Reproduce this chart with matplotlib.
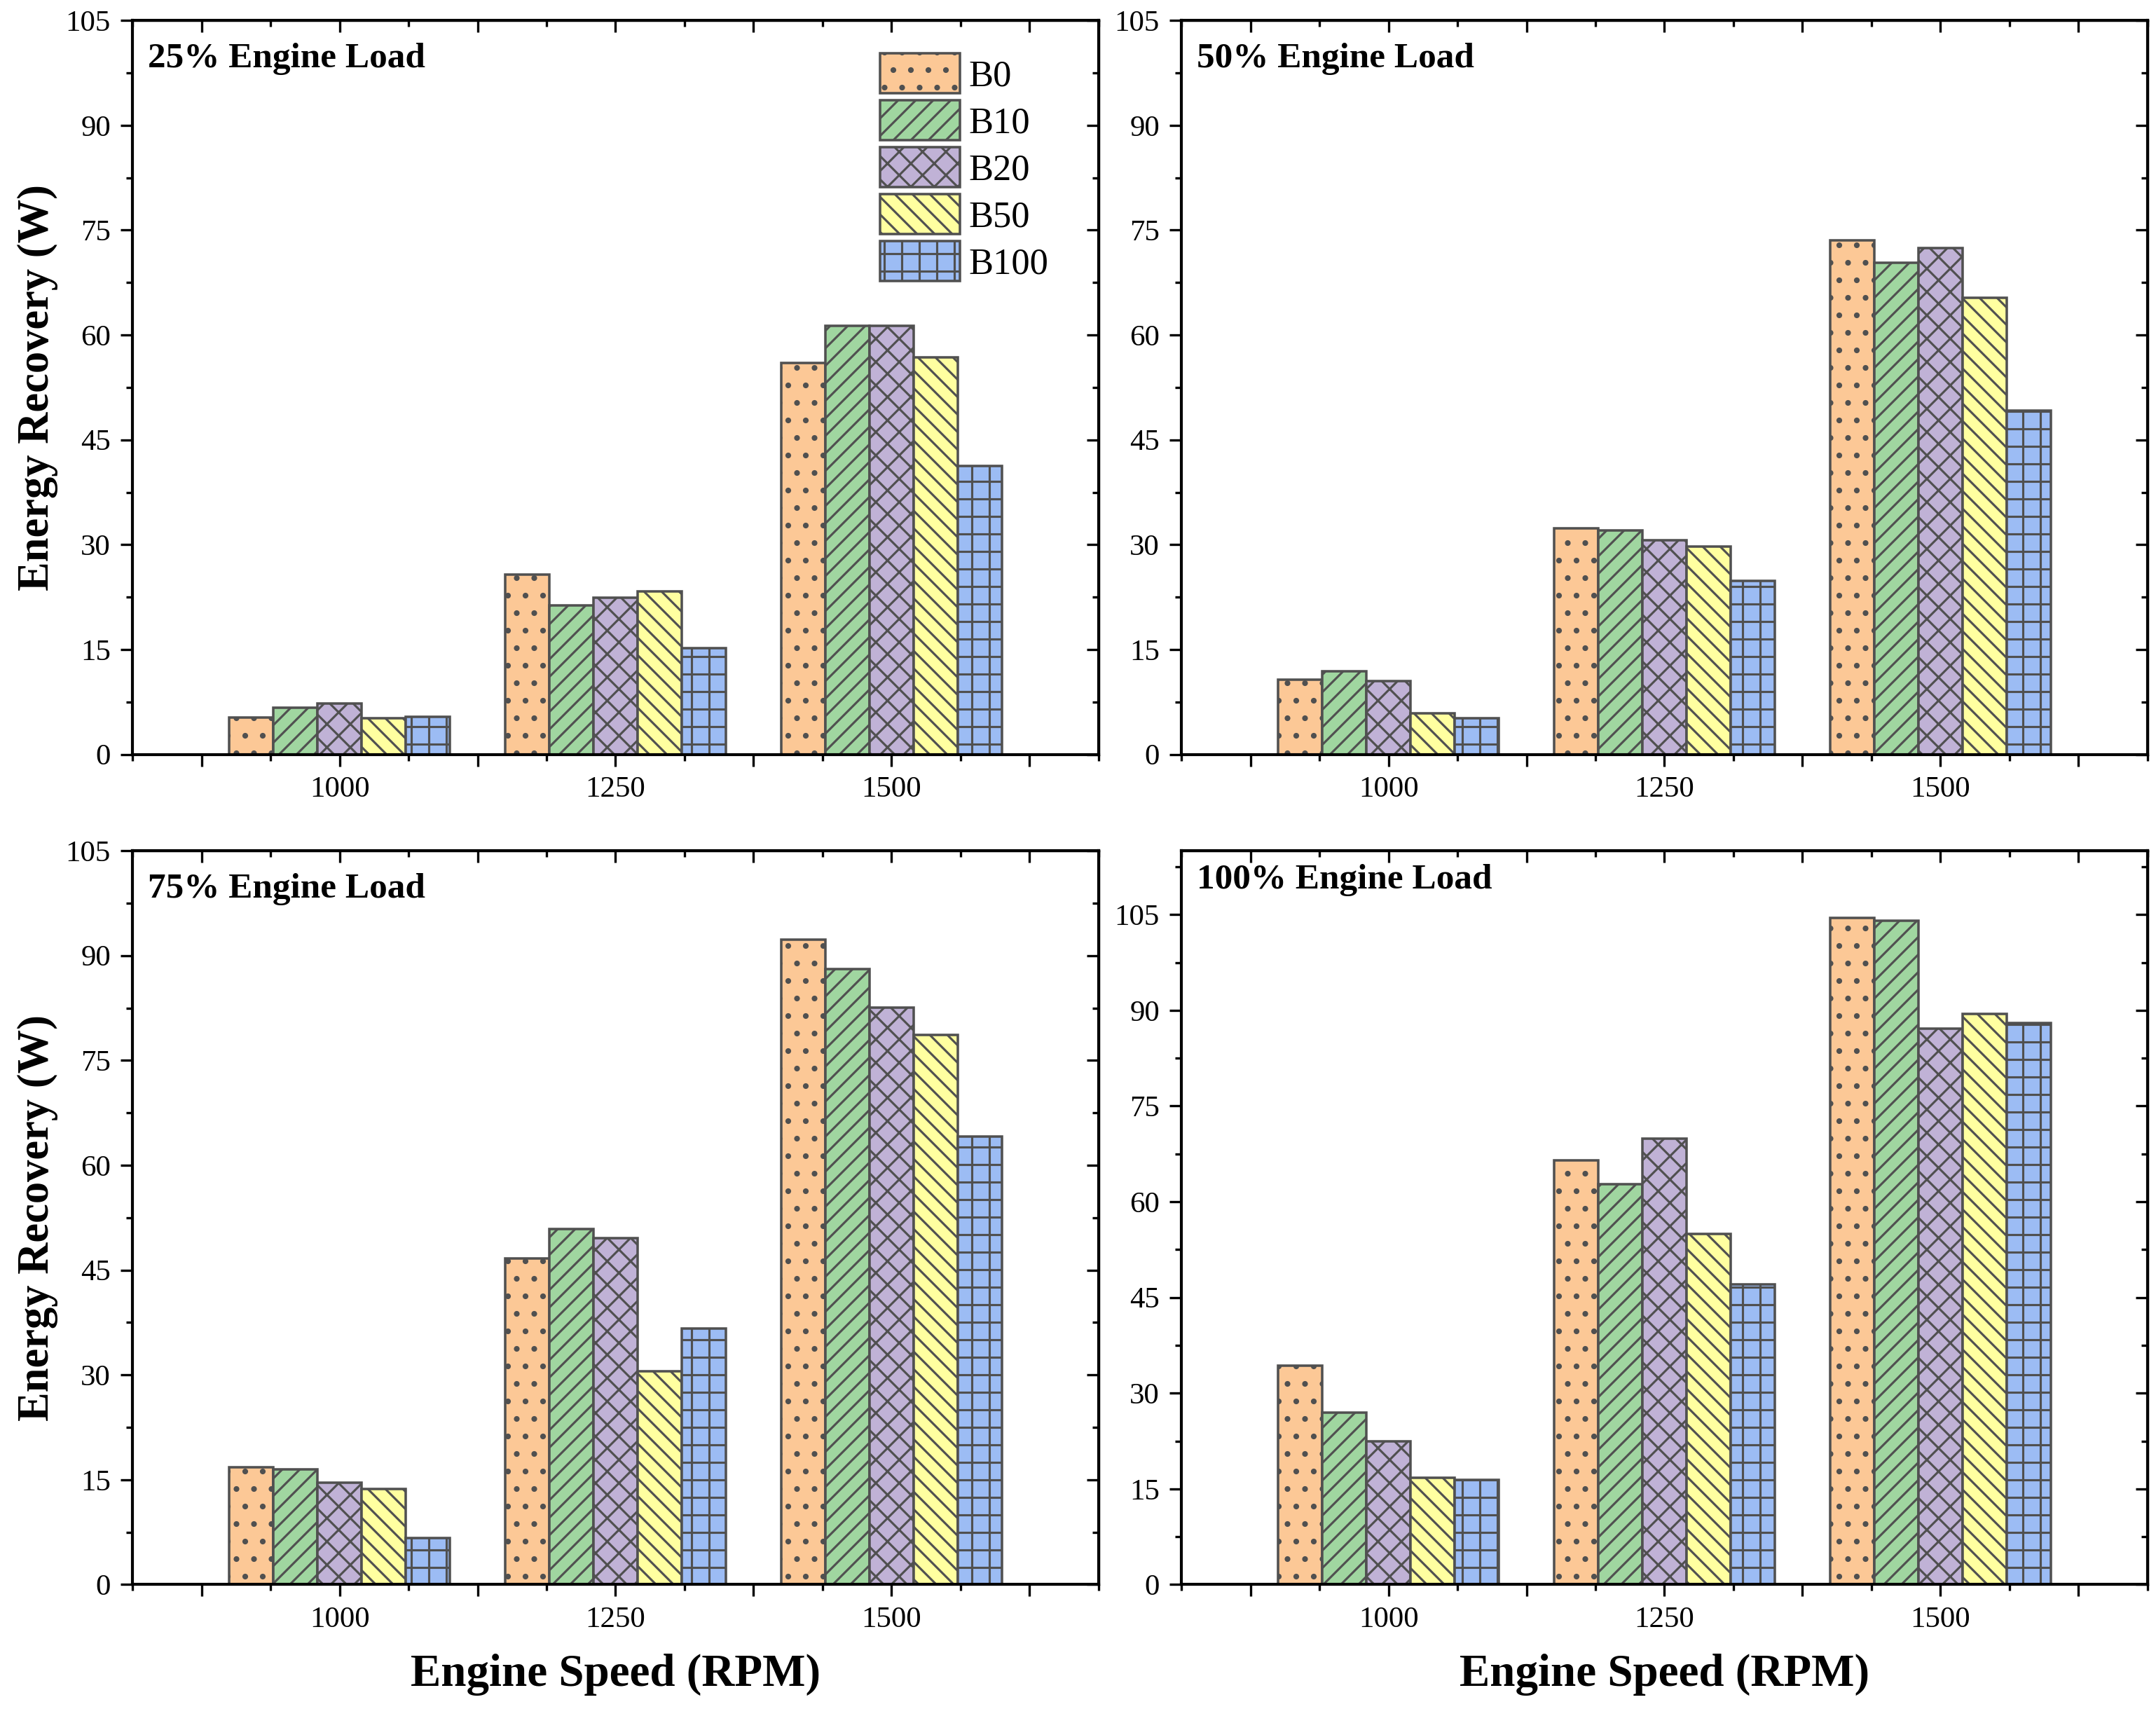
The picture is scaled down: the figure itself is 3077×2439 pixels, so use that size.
import matplotlib
matplotlib.use("Agg")
import matplotlib.pyplot as plt
from matplotlib.ticker import MultipleLocator
import numpy as np

plt.rcParams['font.family'] = ['Liberation Serif', 'DejaVu Serif']
plt.rcParams['hatch.linewidth'] = 0.75

# engine speeds and fuel blends
speeds = [1000, 1250, 1500]
blends = ['B0', 'B10', 'B20', 'B50', 'B100']
loads = ['25% Engine Load', '50% Engine Load', '75% Engine Load', '100% Engine Load']

# energy recovery (W), one list per blend, values at 1000/1250/1500 rpm
load25 = {
    'B0':   [5.3, 25.7, 56.0],
    'B10':  [6.7, 21.3, 61.3],
    'B20':  [7.3, 22.4, 61.3],
    'B50':  [5.2, 23.3, 56.8],
    'B100': [5.4, 15.2, 41.3],
}
load50 = {
    'B0':   [10.7, 32.3, 73.5],
    'B10':  [11.9, 32.0, 70.3],
    'B20':  [10.5, 30.6, 72.4],
    'B50':  [5.9, 29.7, 65.3],
    'B100': [5.2, 24.8, 49.2],
}
load75 = {
    'B0':   [16.8, 46.7, 92.3],
    'B10':  [16.5, 50.9, 88.1],
    'B20':  [14.6, 49.6, 82.6],
    'B50':  [13.7, 30.5, 78.6],
    'B100': [6.7, 36.6, 64.1],
}
load100 = {
    'B0':   [34.3, 66.5, 104.5],
    'B10':  [26.9, 62.8, 104.0],
    'B20':  [22.4, 69.9, 87.1],
    'B50':  [16.7, 54.9, 89.4],
    'B100': [16.4, 47.1, 88.0],
}
all_data = [load25, load50, load75, load100]
ytops = [105, 105, 105, 115]

colors = ['#FCC896', '#A0D6A0', '#C0B2D6', '#FFFFA0', '#9CBCF4']
hatches = ['..', '////', 'xxx', '\\\\\\\\', '++']
edge = '#505050'

fig = plt.figure(figsize=(3077 / 300, 2439 / 300), dpi=300)

lefts = [0.0615, 0.548, 0.0615, 0.548]
bottoms = [0.5586, 0.5586, 0.0728, 0.0728]
w, h = 0.448, 0.4294

bar_w = 40
offsets = [-80, -40, 0, 40, 80]

xmajor = np.arange(875, 1626, 125)
xlabels = ['', '1000', '', '1250', '', '1500', '']
ymajor = np.arange(0, 106, 15)


def style_ticks(axis_obj, direction):
    axis_obj.tick_params(which='both', direction=direction, width=0.8)
    axis_obj.tick_params(which='major', length=4)
    axis_obj.tick_params(which='minor', length=2.2)


for k in range(4):
    ax = fig.add_axes([lefts[k], bottoms[k], w, h])
    data = all_data[k]
    for j, b in enumerate(blends):
        xs = [s + offsets[j] for s in speeds]
        ax.bar(xs, data[b], width=bar_w, color=colors[j], edgecolor=edge,
               linewidth=0.85, hatch=hatches[j], label=b)
    ax.set_xlim(812.5, 1687.5)
    ax.set_ylim(0, ytops[k])
    ax.set_xticks(xmajor)
    ax.set_xticklabels(xlabels)
    ax.xaxis.set_minor_locator(MultipleLocator(62.5))
    ax.set_yticks(ymajor)
    ax.yaxis.set_minor_locator(MultipleLocator(7.5))
    style_ticks(ax, 'out')
    ax.tick_params(labelsize=10.3)
    for sp in ax.spines.values():
        sp.set_linewidth(1.0)

    # inner ticks on top and right like the original
    ax2 = ax.secondary_xaxis('top')
    ax2.set_xticks(xmajor)
    ax2.xaxis.set_minor_locator(MultipleLocator(62.5))
    style_ticks(ax2, 'in')
    ax2.tick_params(labeltop=False)
    ax3 = ax.secondary_yaxis('right')
    ax3.set_yticks(ymajor)
    ax3.yaxis.set_minor_locator(MultipleLocator(7.5))
    style_ticks(ax3, 'in')
    ax3.tick_params(labelright=False)

    ty = 0.982 if k == 3 else 0.97
    ax.text(0.016, ty, loads[k], transform=ax.transAxes, fontsize=12.3,
            fontweight='bold', va='top', ha='left')

    if k in (0, 2):
        ax.set_ylabel('Energy Recovery (W)', fontsize=15, fontweight='bold', labelpad=2.5)
    if k in (2, 3):
        ax.set_xlabel('Engine Speed (RPM)', fontsize=15.6, fontweight='bold', labelpad=7)
    if k == 0:
        ax.legend(loc='upper left', bbox_to_anchor=(0.7585, 0.975), frameon=False,
                  fontsize=12.6, handlelength=2.17, handleheight=1.286,
                  labelspacing=0.19, handletextpad=0.25, borderaxespad=0)

fig.savefig('out.png', dpi=300)
